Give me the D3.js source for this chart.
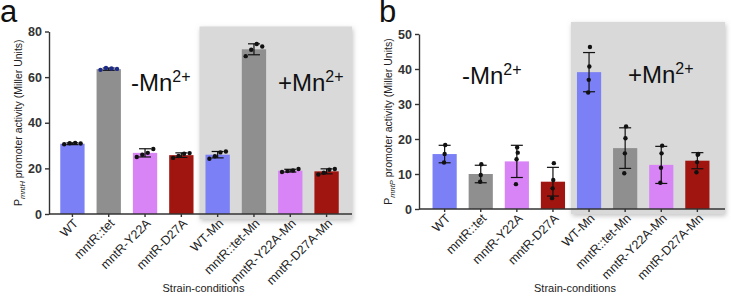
<!DOCTYPE html>
<html>
<head>
<meta charset="utf-8">
<script src="https://cdn.jsdelivr.net/npm/d3@7"></script>
<style>
  body { margin: 0; background: #fff; }
  text { font-family: "Liberation Sans", Arial, sans-serif; }
</style>
</head>
<body>
<div class="chart"></div>
<script>
var svgWidth = 731;
var svgHeight = 300;

// strains / conditions shared by both panels
var strains = ["WT", "mntR::tet", "mntR-Y22A", "mntR-D27A",
  "WT-Mn", "mntR::tet-Mn", "mntR-Y22A-Mn", "mntR-D27A-Mn"];
var barColors = ["#7b80f6", "#8f8f8f", "#d884f6", "#a0150f",
  "#7b80f6", "#8f8f8f", "#d884f6", "#a0150f"];

// panel a: PmntH
var meansA = [30.8, 63.5, 26.8, 25.8, 26.0, 72.2, 19.0, 18.7];
var sdA = [0.4, 0.5, 1.8, 1.0, 1.4, 2.4, 0.6, 1.1];
var pointsA = [
  [30.6, 31.0, 31.2, 30.9],
  [63.2, 64.0, 63.8, 63.6],
  [25.0, 26.0, 26.8, 28.5],
  [24.6, 25.4, 26.4, 26.7],
  [24.2, 25.3, 27.0, 27.4],
  [69.2, 72.0, 74.5, 73.4],
  [18.4, 18.8, 19.1, 19.7],
  [17.3, 18.1, 19.4, 19.7]
];
var ticksA = [0, 20, 40, 60, 80];

// panel b: PmntP
var meansB = [15.7, 10.0, 13.6, 7.8, 39.1, 17.4, 12.6, 13.8];
var sdB = [2.5, 2.5, 4.6, 4.1, 5.6, 5.8, 5.3, 2.3];
var pointsB = [
  [13.3, 15.7, 18.3],
  [7.8, 9.7, 12.8],
  [7.1, 14.2, 17.6, 16.1],
  [3.1, 5.9, 8.3, 13.1],
  [33.3, 36.9, 40.7, 46.3],
  [10.2, 15.9, 20.2, 23.6],
  [7.5, 11.8, 15.9, 18.1],
  [10.5, 13.4, 15.5, 15.7]
];
var ticksB = [0, 10, 20, 30, 40, 50];

var svg = d3.select(".chart")
  .append("svg")
  .attr("width", svgWidth)
  .attr("height", svgHeight);

// soft shadow for the +Mn box
var defs = svg.append("defs");
defs.append("filter")
  .attr("id", "shade")
  .attr("x", "-10%").attr("y", "-10%")
  .attr("width", "120%").attr("height", "120%")
  .append("feDropShadow")
  .attr("dx", 1).attr("dy", 2)
  .attr("stdDeviation", 2.5)
  .attr("flood-color", "#888")
  .attr("flood-opacity", 0.5);

function drawPanel(cfg) {
  var g = svg.append("g");

  var x = d3.scaleBand()
    .domain(strains)
    .range([cfg.left, cfg.right])
    .paddingInner(0.33)
    .paddingOuter(cfg.outer);

  var y = d3.scaleLinear()
    .domain([0, cfg.ymax])
    .range([cfg.bottom, cfg.top]);

  // shaded +Mn region
  var gap = x.step() * x.paddingInner() / 2;
  g.append("rect")
    .attr("x", x("WT-Mn") - gap)
    .attr("y", cfg.top - cfg.shadeTop)
    .attr("width", cfg.right - x("WT-Mn") + gap + 2)
    .attr("height", cfg.bottom - cfg.top + cfg.shadeTop + 5)
    .attr("fill", "#d9d9d9")
    .attr("filter", "url(#shade)");

  // bars
  g.selectAll(".bar")
    .data(cfg.means)
    .enter()
    .append("rect")
    .attr("x", (d, i) => x(strains[i]))
    .attr("y", d => y(d))
    .attr("width", x.bandwidth())
    .attr("height", d => cfg.bottom - y(d))
    .attr("fill", (d, i) => barColors[i]);

  // error bars (mean +/- sd)
  var cx = i => x(strains[i]) + x.bandwidth() / 2;
  var err = g.selectAll(".err")
    .data(cfg.means)
    .enter()
    .append("g")
    .attr("stroke", "#111")
    .attr("stroke-width", 1.2);
  err.append("line")
    .attr("x1", (d, i) => cx(i)).attr("x2", (d, i) => cx(i))
    .attr("y1", (d, i) => y(d - cfg.sd[i]))
    .attr("y2", (d, i) => y(d + cfg.sd[i]));
  err.append("line")
    .attr("x1", (d, i) => cx(i) - 6).attr("x2", (d, i) => cx(i) + 6)
    .attr("y1", (d, i) => y(d + cfg.sd[i]))
    .attr("y2", (d, i) => y(d + cfg.sd[i]));
  err.append("line")
    .attr("x1", (d, i) => cx(i) - 6).attr("x2", (d, i) => cx(i) + 6)
    .attr("y1", (d, i) => y(d - cfg.sd[i]))
    .attr("y2", (d, i) => y(d - cfg.sd[i]));

  // replicate points, spread a little across the bar
  cfg.points.forEach(function(pts, i) {
    var n = pts.length;
    g.selectAll(null)
      .data(pts)
      .enter()
      .append("circle")
      .attr("cx", (d, j) => cx(i) + (j - (n - 1) / 2) * cfg.spread)
      .attr("cy", d => y(d))
      .attr("r", 2.2)
      .attr("fill", cfg.dotColor[i] || "#111");
  });

  // axes
  var xAxis = g.append("g")
    .attr("transform", `translate(0, ${cfg.bottom})`)
    .call(d3.axisBottom(x).tickSize(3).tickSizeOuter(0));
  xAxis.select(".domain")
    .attr("d", `M${cfg.left},0H${cfg.right + 2}`);
  xAxis.selectAll("text")
    .attr("transform", "rotate(-45)")
    .attr("text-anchor", "end")
    .attr("dx", "-0.2em")
    .attr("dy", "0.45em")
    .attr("font-size", 12.5)
    .attr("fill", "#222");

  var yAxis = g.append("g")
    .attr("transform", `translate(${cfg.left}, 0)`)
    .call(d3.axisLeft(y).tickValues(cfg.ticks).tickSize(4).tickSizeOuter(0));
  yAxis.selectAll("text")
    .attr("font-size", 12.5)
    .attr("font-weight", "bold")
    .attr("fill", "#333");

  g.selectAll(".domain, .tick line")
    .attr("stroke", "#333")
    .attr("stroke-width", 1.4);

  // y-axis title with subscript
  var yt = g.append("text")
    .attr("transform", `translate(${cfg.left - 27}, ${(cfg.top + cfg.bottom) / 2}) rotate(-90)`)
    .attr("text-anchor", "middle")
    .attr("font-size", 10.5)
    .attr("fill", "#222");
  yt.append("tspan").text("P");
  yt.append("tspan")
    .attr("font-size", 7.5)
    .attr("font-style", "italic")
    .attr("dy", 3)
    .text(cfg.sub);
  yt.append("tspan")
    .attr("dy", -3)
    .text(" promoter activity (Miller Units)");

  // x-axis title
  g.append("text")
    .attr("x", (cfg.left + cfg.right) / 2 + 4)
    .attr("y", 292)
    .attr("text-anchor", "middle")
    .attr("font-size", 11)
    .attr("fill", "#222")
    .text("Strain-conditions");

  // -Mn / +Mn labels
  cfg.mnLabels.forEach(function(m) {
    var t = g.append("text")
      .attr("x", m.x)
      .attr("y", m.y)
      .attr("font-size", 24)
      .attr("fill", "#111");
    t.append("tspan").text(m.text);
    t.append("tspan")
      .attr("font-size", 16)
      .attr("dy", -9)
      .text("2+");
  });

  // panel letter
  g.append("text")
    .attr("x", cfg.letterX)
    .attr("y", 22)
    .attr("font-size", 31)
    .attr("fill", "#111")
    .text(cfg.letter);
}

drawPanel({
  letter: "a", letterX: 0,
  left: 49, right: 350, top: 31.5, bottom: 214, outer: 0.31,
  ymax: 80, ticks: ticksA, shadeTop: 5, spread: 5.5,
  means: meansA, sd: sdA, points: pointsA, sub: "mntH",
  dotColor: [null, "#1c2a8a"],
  mnLabels: [{ text: "-Mn", x: 131, y: 91 }, { text: "+Mn", x: 278, y: 91 }]
});

drawPanel({
  letter: "b", letterX: 379,
  left: 419, right: 723, top: 34, bottom: 209, outer: 0.375,
  ymax: 50, ticks: ticksB, shadeTop: 12, spread: 0.6,
  means: meansB, sd: sdB, points: pointsB, sub: "mntP",
  dotColor: [],
  mnLabels: [{ text: "-Mn", x: 462, y: 84 }, { text: "+Mn", x: 628, y: 83 }]
});
</script>
</body>
</html>
